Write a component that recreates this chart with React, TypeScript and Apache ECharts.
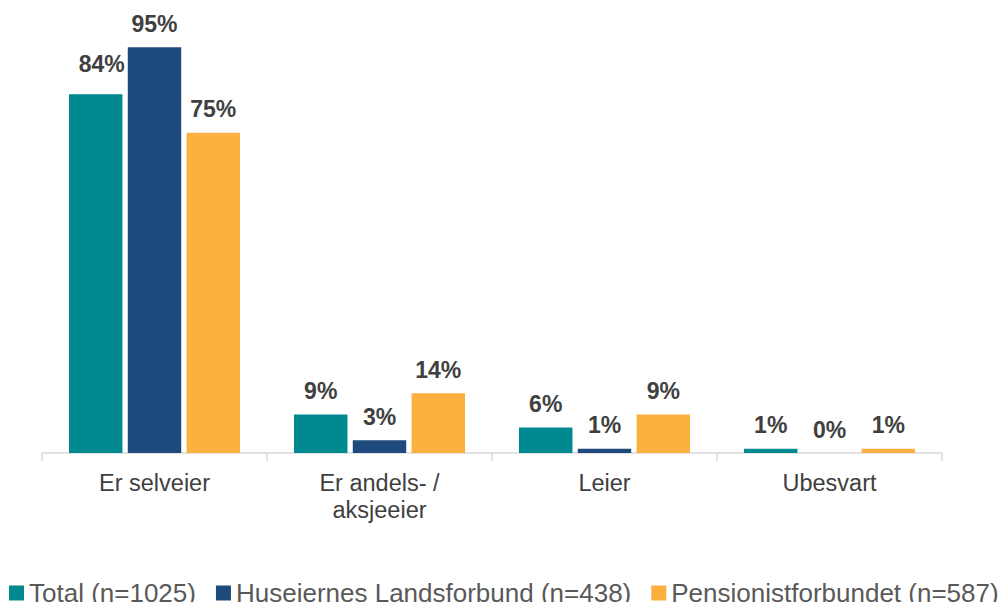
import React, { useEffect, useRef } from "react";
import * as echarts from "echarts";

const categories = ["Er selveier", "Er andels- /\naksjeeier", "Leier", "Ubesvart"];
const seriesNames = ["Total (n=1025)", "Huseiernes Landsforbund (n=438)", "Pensjonistforbundet (n=587)"];
const totalValues = [84, 9, 6, 1];
const hlfValues = [95, 3, 1, 0];
const pensValues = [75, 14, 9, 1];
const colors = ["#00898F", "#1F4A7D", "#FBB040"];

export default function App() {
  const ref = useRef<HTMLDivElement>(null);
  useEffect(() => {
    const chart = echarts.init(ref.current!, null, { renderer: "svg" });
    const font = "Arial, 'Liberation Sans', sans-serif";
    const mk = (name: string, data: any[], color: string) => ({
      name,
      type: "bar",
      data,
      barGap: "10%",
      barCategoryGap: "24%",
      itemStyle: { color },
      label: {
        show: true,
        position: "top",
        distance: 12,
        formatter: "{c}%",
        fontFamily: font,
        fontWeight: "bold",
        fontSize: 23,
        color: "#404040",
      },
    });
    // the first label in the reference sits a little higher and to the right
    const totalData = totalValues.map((v, i) =>
      i === 0 ? { value: v, label: { offset: [6, -7] } } : v
    );
    chart.setOption({
      animation: false,
      grid: { left: 42, right: 66, top: 26, bottom: 157 },
      legend: {
        top: 575,
        left: 7,
        width: 1001,
        padding: [5, 2, 5, 2],
        itemWidth: 15,
        itemHeight: 15,
        itemGap: 20,
        icon: "rect",
        textStyle: { fontFamily: font, fontSize: 26, color: "#595959" },
        data: seriesNames,
      },
      xAxis: {
        type: "category",
        data: categories,
        axisLine: { lineStyle: { color: "#D9D9D9", width: 1.5 } },
        axisTick: { show: true, length: 8, lineStyle: { color: "#D9D9D9", width: 1.5 } },
        axisLabel: { fontFamily: font, fontSize: 23.5, color: "#404040", margin: 16, lineHeight: 27, interval: 0 },
      },
      yAxis: { type: "value", min: 0, max: 100, show: false, splitLine: { show: false } },
      series: [
        mk(seriesNames[0], totalData, colors[0]),
        mk(seriesNames[1], hlfValues, colors[1]),
        mk(seriesNames[2], pensValues, colors[2]),
      ],
    });
    return () => chart.dispose();
  }, []);
  return <div ref={ref} style={{ width: 1008, height: 610, margin: -8 }} />;
}
